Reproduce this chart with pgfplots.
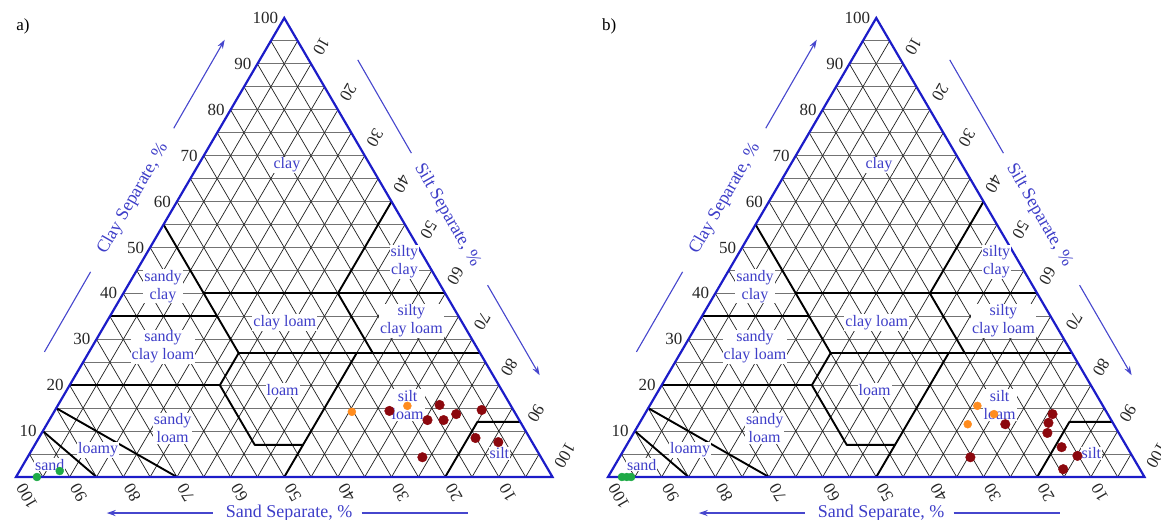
\documentclass[border=0pt]{standalone}
\usepackage{fontspec}
\setmainfont{Liberation Serif}
\usepackage{pgfplots}
\usepackage{pgfplotstable}
\pgfplotsset{compat=1.18}
\usetikzlibrary{arrows.meta}

\definecolor{edgeblue}{RGB}{28,28,200}
\definecolor{labblue}{RGB}{62,62,200}
\definecolor{arrblue}{RGB}{70,70,205}
\definecolor{dotred}{RGB}{140,8,14}
\definecolor{dotorange}{RGB}{255,140,30}
\definecolor{dotgreen}{RGB}{30,170,70}

% ternary (sand, silt, clay) -> cartesian position in the triangle
\pgfplotsset{
  table/tern/.style={x expr=\thisrow{silt}+0.5*\thisrow{clay},
                     y expr=0.8660254*\thisrow{clay}},
  soiltri/.style={hide axis, scale only axis, width=536.5pt, height=459pt,
    xmin=0, xmax=100, ymin=0, ymax=86.60254, clip=false, anchor=south west},
  bound/.style={black, line width=1.9pt, no markers, line join=round},
}
\tikzset{
  cls/.style={text=labblue, font=\fontsize{16}{18}\selectfont, align=center,
              fill=white, inner sep=1pt},
  tick/.style={text=black!85, font=\fontsize{17}{17}\selectfont, inner sep=0pt},
  ttl/.style={text=labblue, font=\fontsize{18}{18}\selectfont, inner sep=0pt},
  arr/.style={arrblue, line width=1.1pt},
}

% sample compositions, % sand / silt / clay
\pgfplotstableread{
sand silt clay
96.1 3.9 0.0
91.2 7.5 1.3
}\aGreen
\pgfplotstableread{
sand silt clay
30.3 55.5 14.2
19.3 65.2 15.5
}\aOrange
\pgfplotstableread{
sand silt clay
23.2 62.4 14.4
13.2 71.1 15.7
17.1 70.5 12.4
14.1 73.5 12.4
11.1 75.2 13.7
5.9 79.5 14.6
10.1 81.4 8.5
6.3 86.1 7.6
22.1 73.6 4.3
}\aRed
\pgfplotstableread{
sand silt clay
97.4 2.6 0.0
96.5 3.5 0.0
95.7 4.3 0.0
}\bGreen
\pgfplotstableread{
sand silt clay
23.4 61.1 15.5
21.2 65.1 13.7
27.2 61.3 11.5
}\bOrange
\pgfplotstableread{
sand silt clay
20.2 68.3 11.5
10.3 76.0 13.7
12.0 76.2 11.8
13.3 77.1 9.6
12.2 81.3 6.5
10.2 85.2 4.6
14.3 84.0 1.7
30.3 65.4 4.3
}\bRed

% the USDA texture triangle: grid, class boundaries, labels, axis titles
\newcommand\soilframe{%
  \pgfplotsinvokeforeach{5,10,...,95}{%
    \draw[black!55, line width=0.9pt] (axis cs:{##1/2},{0.8660254*##1}) -- (axis cs:{100-##1/2},{0.8660254*##1});
    \draw[black!88, line width=0.7pt] (axis cs:##1,0) -- (axis cs:{50+##1/2},{0.8660254*(100-##1)});
    \draw[black!88, line width=0.7pt] (axis cs:##1,0) -- (axis cs:{##1/2},{0.8660254*##1});
  }
  \addplot[bound] table[tern, row sep=\\]{sand silt clay\\ 45 0 55\\ 45 15 40\\ 45 20 35\\ 45 28 27\\ 52 28 20\\ 52 41 7\\ 43 50 7\\};
  \addplot[bound] table[tern, row sep=\\]{sand silt clay\\ 45 15 40\\ 0 60 40\\};
  \addplot[bound] table[tern, row sep=\\]{sand silt clay\\ 20 40 40\\ 0 40 60\\};
  \addplot[bound] table[tern, row sep=\\]{sand silt clay\\ 20 40 40\\ 20 53 27\\};
  \addplot[bound] table[tern, row sep=\\]{sand silt clay\\ 65 0 35\\ 45 20 35\\};
  \addplot[bound] table[tern, row sep=\\]{sand silt clay\\ 45 28 27\\ 0 73 27\\};
  \addplot[bound] table[tern, row sep=\\]{sand silt clay\\ 80 0 20\\ 52 28 20\\};
  \addplot[bound] table[tern, row sep=\\]{sand silt clay\\ 50 50 0\\ 23 50 27\\};
  \addplot[bound] table[tern, row sep=\\]{sand silt clay\\ 20 80 0\\ 8 80 12\\ 0 88 12\\};
  \addplot[bound] table[tern, row sep=\\]{sand silt clay\\ 70 30 0\\ 85 0 15\\};
  \addplot[bound] table[tern, row sep=\\]{sand silt clay\\ 85 15 0\\ 90 0 10\\};
  \draw[edgeblue, line width=2.2pt, line join=miter] (axis cs:0,0) -- (axis cs:100,0) -- (axis cs:50,86.60254) -- cycle;
  % class names
  \node[cls] at (axis cs:50.5,58.9) {clay};
  \node[cls] at (axis cs:72.4,40.6) {silty\\clay};
  \node[cls] at (axis cs:27.4,36.0) {sandy\\clay};
  \node[cls] at (axis cs:50.1,29.2) {clay loam};
  \node[cls] at (axis cs:73.7,29.4) {silty\\clay loam};
  \node[cls] at (axis cs:27.4,24.5) {sandy\\clay loam};
  \node[cls] at (axis cs:49.7,16.4) {loam};
  \node[cls] at (axis cs:73.0,13.6) {silt\\loam};
  \node[cls] at (axis cs:29.2,9.2) {sandy\\loam};
  \node[cls] at (axis cs:15.3,5.1) {loamy};
  \node[cls] at (axis cs:6.3,2.3) {sand};
  \node[cls] at (axis cs:90.1,4.5) {silt};
  % tick numbers
  \pgfplotsinvokeforeach{10,20,...,100}{%
    \node[tick, anchor=east] at (axis cs:{##1/2-1.1},{0.8660254*##1}) {##1};
    \node[tick, anchor=east, rotate=120] at (axis cs:{100-##1+0.85},{-1.5}) {##1};
    \node[tick, anchor=east, rotate=-120] at (axis cs:{50+##1/2+1.1},{0.8660254*(100-##1)+1.9}) {##1};
  }
  % axis titles with arrows
  \node[ttl, rotate=60] at (axis cs:21.8,52.5) {Clay Separate, \%};
  \draw[arr] (axis cs:5.3,23.6) -- (axis cs:13.9,38.7);
  \draw[arr, -{Stealth[length=9pt,width=6pt]}] (axis cs:29.4,65.8) -- (axis cs:38.9,82.5);
  \node[ttl, rotate=-60] at (axis cs:80.4,49.4) {Silt Separate, \%};
  \draw[arr] (axis cs:63.7,78.7) -- (axis cs:73.7,61.1);
  \draw[arr, -{Stealth[length=9pt,width=6pt]}] (axis cs:87.9,36.2) -- (axis cs:97.6,19.2);
  \node[ttl] at (axis cs:50.9,-6.8) {Sand Separate, \%};
  \draw[arr, -{Stealth[length=9pt,width=6pt]}] (axis cs:36.7,-6.8) -- (axis cs:16.9,-6.8);
  \draw[arr] (axis cs:64.4,-6.8) -- (axis cs:84.2,-6.8);
}

\begin{document}
\begin{tikzpicture}
\useasboundingbox (0pt,0pt) rectangle (1161pt,519pt);
\begin{axis}[soiltri, at={(16pt,42pt)}]
  \soilframe
  \node[font=\fontsize{17}{17}\selectfont] at (axis cs:1.3,85.1) {a)};
  \addplot[only marks, mark=*, mark size=4pt, color=dotgreen] table[tern]{\aGreen};
  \addplot[only marks, mark=*, mark size=4pt, color=dotorange] table[tern]{\aOrange};
  \addplot[only marks, mark=*, mark size=4.8pt, color=dotred] table[tern]{\aRed};
\end{axis}
\begin{axis}[soiltri, at={(608pt,42pt)}]
  \soilframe
  \node[font=\fontsize{17}{17}\selectfont] at (axis cs:0.2,85.1) {b)};
  \addplot[only marks, mark=*, mark size=4pt, color=dotgreen] table[tern]{\bGreen};
  \addplot[only marks, mark=*, mark size=4pt, color=dotorange] table[tern]{\bOrange};
  \addplot[only marks, mark=*, mark size=4.8pt, color=dotred] table[tern]{\bRed};
\end{axis}
\end{tikzpicture}
\end{document}
